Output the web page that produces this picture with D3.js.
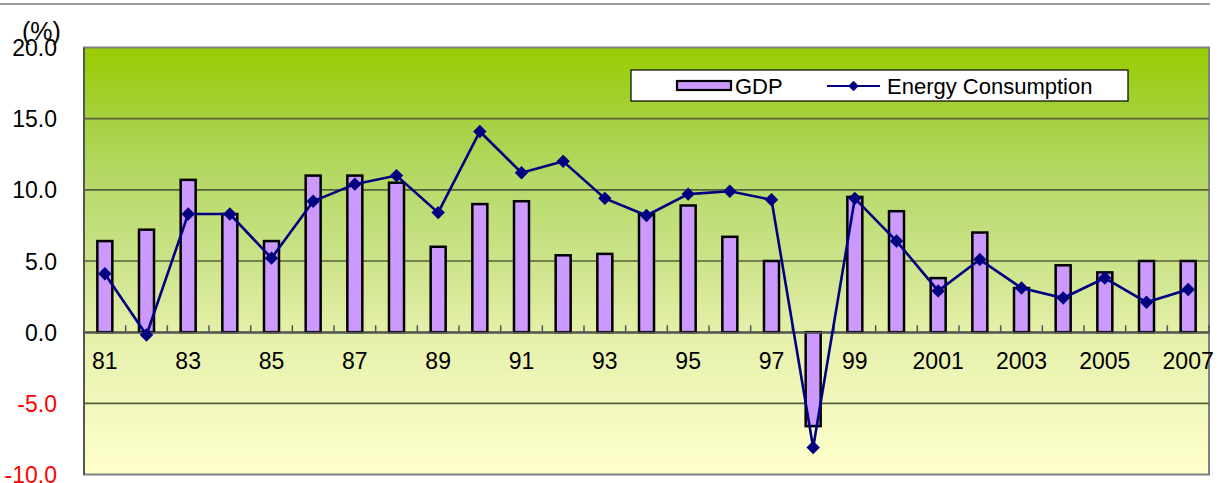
<!DOCTYPE html>
<html><head><meta charset="utf-8">
<script src="https://cdn.jsdelivr.net/npm/d3@7"></script>
<style>
html,body{margin:0;padding:0;background:#fff;}
text{font-family:"Liberation Sans",Arial,sans-serif;}
</style></head>
<body><svg id="c" width="1221" height="483"></svg>
<script>
const years = ["81","82","83","84","85","86","87","88","89","90","91","92","93","94","95","96","97","98","99","2000","2001","2002","2003","2004","2005","2006","2007"];
const xLabels = ["81","83","85","87","89","91","93","95","97","99","2001","2003","2005","2007"];
const gdp = [6.4,7.2,10.7,8.3,6.4,11.0,11.0,10.5,6.0,9.0,9.2,5.4,5.5,8.3,8.9,6.7,5.0,-6.6,9.5,8.5,3.8,7.0,3.1,4.7,4.2,5.0,5.0];
const energy = [4.1,-0.2,8.3,8.3,5.2,9.2,10.4,11.0,8.4,14.1,11.2,12.0,9.4,8.2,9.7,9.9,9.3,-8.1,9.4,6.4,2.9,5.1,3.1,2.4,3.8,2.1,3.0];
const yTicks = [20,15,10,5,0,-5,-10];

const svg = d3.select("#c");
const L = 84, R = 1209, T = 47.5, B = 474.5;
const x = d3.scaleBand().domain(years).range([L, R]).paddingInner(0).paddingOuter(0);
const y = d3.scaleLinear().domain([-10, 20]).range([B, T]);

// top rule
svg.append("line").attr("x1",0).attr("x2",1210).attr("y1",4).attr("y2",4).attr("stroke","#808080").attr("stroke-width",1.5);

// background gradient
const defs = svg.append("defs");
const g = defs.append("linearGradient").attr("id","bg").attr("x1",0).attr("y1",0).attr("x2",0).attr("y2",1);
[[0,"#99cc00"],[0.17,"#a6d140"],[0.31,"#b6d968"],[0.5,"#cce38a"],[0.67,"#e5f0aa"],[1,"#ffffcc"]]
  .forEach(([o,c])=>g.append("stop").attr("offset",o).attr("stop-color",c));
svg.append("rect").attr("x",L).attr("y",T).attr("width",R-L).attr("height",B-T)
  .attr("fill","url(#bg)").attr("stroke","#808080").attr("stroke-width",2);

// gridlines
svg.append("g").selectAll("line").data(yTicks.filter(d=>d!==-10 && d!==20)).join("line")
  .attr("x1",L).attr("x2",R).attr("y1",d=>y(d)).attr("y2",d=>y(d))
  .attr("stroke","#55603a").attr("stroke-width",1.6);

// left axis line
svg.append("line").attr("x1",L).attr("x2",L).attr("y1",T).attr("y2",B).attr("stroke","#555").attr("stroke-width",2);

// y labels
svg.append("g").selectAll("text").data(yTicks).join("text")
  .attr("x",57).attr("y",d=>y(d)).attr("dy","0.37em").attr("text-anchor","end")
  .attr("font-size",23).attr("fill",d=>d<0?"#ff0000":"#000").text(d=>d.toFixed(1));
svg.append("text").attr("x",22).attr("y",40).attr("font-size",25).text("(%)");

// bars
const bw = 15;
svg.append("g").selectAll("rect").data(gdp).join("rect")
  .attr("x",(d,i)=>x(years[i])+x.bandwidth()/2-bw/2)
  .attr("y",d=>y(Math.max(0,d)))
  .attr("width",bw)
  .attr("height",d=>Math.abs(y(d)-y(0)))
  .attr("fill","#cc99ff").attr("stroke","#000").attr("stroke-width",2.5);

// x axis line + ticks
const ax = svg.append("g").attr("transform",`translate(0,${y(0)})`)
  .call(d3.axisBottom(x).tickSize(0).tickFormat(""));
ax.select(".domain").attr("stroke","#555").attr("stroke-width",2);
svg.append("g").selectAll("line").data(years.slice(1)).join("line")
  .attr("x1",d=>x(d)).attr("x2",d=>x(d)).attr("y1",y(0)).attr("y2",y(0)-7)
  .attr("stroke","#555").attr("stroke-width",1.5);
svg.append("line").attr("x1",R).attr("x2",R).attr("y1",y(0)).attr("y2",y(0)-7).attr("stroke","#555").attr("stroke-width",1.5);

// x labels
svg.append("g").selectAll("text").data(xLabels).join("text")
  .attr("x",d=>x(d)+x.bandwidth()/2).attr("y",369).attr("text-anchor","middle")
  .attr("font-size",23).text(d=>d);

// line
const line = d3.line().x((d,i)=>x(years[i])+x.bandwidth()/2).y(d=>y(d));
svg.append("path").datum(energy).attr("d",line).attr("fill","none")
  .attr("stroke","#000080").attr("stroke-width",2.6);
const diamond = d3.symbol().type(d3.symbolDiamond2).size(115);
svg.append("g").selectAll("path").data(energy).join("path")
  .attr("transform",(d,i)=>`translate(${x(years[i])+x.bandwidth()/2},${y(d)})`)
  .attr("d",diamond).attr("fill","#000080");

// legend
const lg = svg.append("g");
lg.append("rect").attr("x",631).attr("y",70).attr("width",497).attr("height",31)
  .attr("fill","#fff").attr("stroke","#000").attr("stroke-width",1.2);
lg.append("rect").attr("x",677).attr("y",81).attr("width",54).attr("height",9)
  .attr("fill","#cc99ff").attr("stroke","#000").attr("stroke-width",2.2);
lg.append("text").attr("x",735).attr("y",94).attr("font-size",22).text("GDP");
lg.append("line").attr("x1",827).attr("x2",880).attr("y1",86).attr("y2",86)
  .attr("stroke","#000080").attr("stroke-width",2.2);
lg.append("path").attr("transform","translate(853.5,86)").attr("d",d3.symbol().type(d3.symbolDiamond2).size(70)).attr("fill","#000080");
lg.append("text").attr("x",887).attr("y",94).attr("font-size",22).text("Energy Consumption");
</script></body></html>
